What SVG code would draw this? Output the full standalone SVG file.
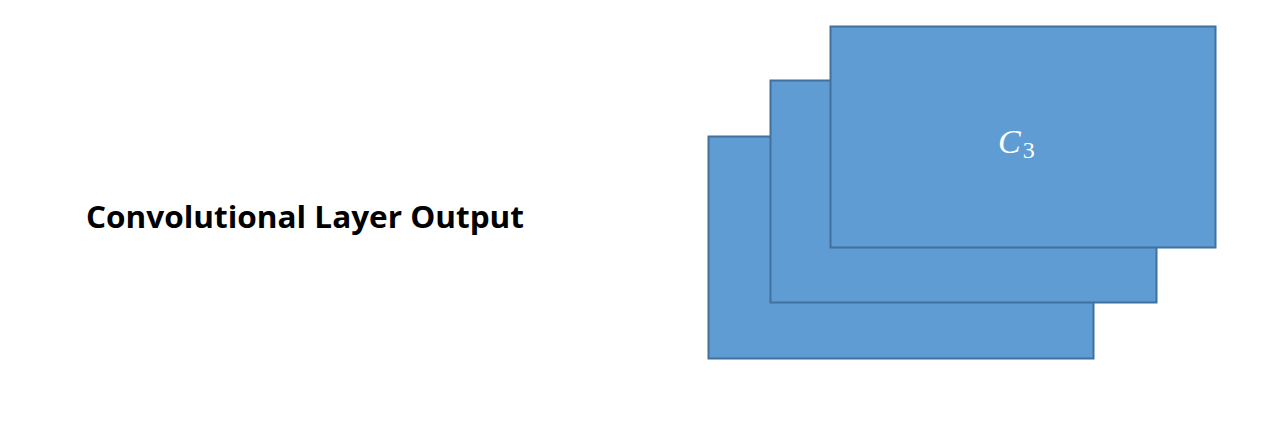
<svg xmlns="http://www.w3.org/2000/svg" width="1262" height="430" viewBox="0 0 1262 430">
<style>
.card{fill:#5E9CD3;stroke:#41719C;stroke-width:2}
.title{font-family:"Open Sans","Liberation Sans",Arial,sans-serif;font-weight:bold;font-size:31px;fill:#000}
.math{font-family:"Liberation Serif","DejaVu Serif",serif;fill:#fff}
</style>
<rect width="1262" height="430" fill="#fff"/>
<g id="label">
<text class="title" x="86" y="228" textLength="438" lengthAdjust="spacingAndGlyphs">Convolutional Layer Output</text>
</g>
<g id="layer1"><rect class="card" x="708.5" y="136.5" width="385" height="222"/></g>
<g id="layer2"><rect class="card" x="770.5" y="80.5" width="386" height="222"/></g>
<g id="layer3"><rect class="card" x="830.5" y="26.5" width="385" height="221"/>
<text class="math" x="998" y="153" font-size="34"><tspan font-style="italic">C</tspan><tspan dx="2" dy="5" font-size="24">3</tspan></text>
</g>
<g id="connectors"></g>
</svg>
